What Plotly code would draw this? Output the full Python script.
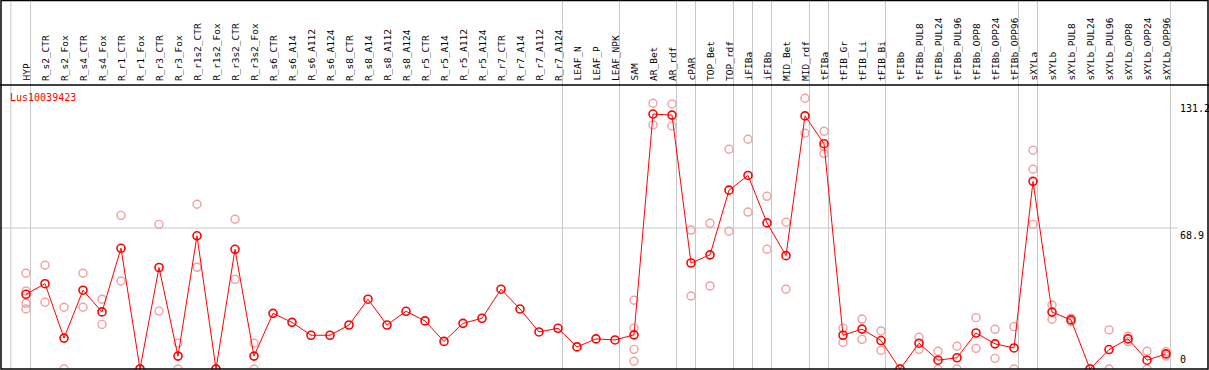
import plotly.graph_objects as go

categories = ["HYP", "R_s2_CTR", "R_s2_Fox", "R_s4_CTR", "R_s4_Fox", "R_r1_CTR", "R_r1_Fox",
              "R_r3_CTR", "R_r3_Fox", "R_r1s2_CTR", "R_r1s2_Fox", "R_r3s2_CTR", "R_r3s2_Fox",
              "R_s6_CTR", "R_s6_A14", "R_s6_A112", "R_s6_A124", "R_s8_CTR", "R_s8_A14",
              "R_s8_A112", "R_s8_A124", "R_r5_CTR", "R_r5_A14", "R_r5_A112", "R_r5_A124",
              "R_r7_CTR", "R_r7_A14", "R_r7_A112", "R_r7_A124", "LEAF_N", "LEAF_P", "LEAF_NPK",
              "SAM", "AR_Bet", "AR_rdf", "cPAR", "TOP_Bet", "TOP_rdf", "iFIBa", "iFIBb",
              "MID_Bet", "MID_rdf", "tFIBa", "tFIB_Gr", "tFIB_Li", "tFIB_Bi", "tFIBb",
              "tFIBb_PUL8", "tFIBb_PUL24", "tFIBb_PUL96", "tFIBb_OPP8", "tFIBb_OPP24",
              "tFIBb_OPP96", "sXYLa", "sXYLb", "sXYLb_PUL8", "sXYLb_PUL24", "sXYLb_PUL96",
              "sXYLb_OPP8", "sXYLb_OPP24", "sXYLb_OPP96"]

means = [36.5, 41.7, 15.1, 38.5, 27.9, 59.0, 0, 49.6, 6.3, 65.1, 0, 58.5, 6.3,
         27.2, 22.8, 16.5, 16.5, 21.5, 34.1, 21.5, 28.2, 23.5, 13.5, 22.3, 24.8,
         39.0, 29.3, 18.1, 19.9, 10.8, 14.7, 14.2,
         16.7, 124.6, 124.1, 51.8, 55.8, 87.4, 94.6, 71.4, 55.4, 123.7, 110.1,
         16.5, 19.5, 13.9, 0, 12.6, 4.3, 5.5, 17.6, 12.3, 10.3,
         91.7, 27.8, 24.0, 0, 9.5, 14.7, 4.3, 7.4]

replicates = [[46.8, 38.1, 32.1, 29.3], [50.7, 32.6], [30.2, 0], [46.8, 30.2], [34.1, 21.8],
              [75.1, 43.0], [0, 0], [70.7, 28.3], [12.6, 0], [80.5, 49.7], [0, 0],
              [73.2, 43.8], [12.6, 0],
              [], [], [], [], [], [], [], [], [], [], [], [], [], [], [], [], [], [], [],
              [33.6, 20.0, 9.6, 3.8], [129.9, 119.3], [129.5, 118.8], [67.9, 35.7],
              [71.2, 40.6], [107.4, 67.3], [112.3, 76.7], [84.4, 58.5], [71.7, 39.0],
              [132.3, 115.2], [116.2, 108.7, 105.4], [20.0, 13.0], [24.4, 14.5],
              [18.6, 9.1], [0, 0], [15.5, 9.6], [8.65, 0], [11.1, 0], [25.1, 10.1],
              [19.4, 5.2], [20.7, 0], [106.9, 97.6, 70.7], [31.3, 24.3], [24.8, 23.1],
              [0, 0], [19.1, 0], [16.0, 13.4], [8.65, 0], [8.5, 6.35]]

tick_values = [131.2, 68.9, 0]
gene_name = "Lus10039423"
group_ends = ["HYP", "R_r7_A124", "LEAF_NPK", "AR_rdf", "cPAR", "TOP_rdf", "iFIBa",
              "iFIBb", "MID_rdf", "tFIBa", "tFIB_Bi", "tFIBb_OPP96", "sXYLa", "sXYLb_OPP96"]

W, H = 1209, 370
TOP_PX, BOT_PX = 85, 369
FONT = "DejaVu Sans Mono"
RED = "#ff0000"
PALE = "#f2a0a0"
GRID = "#c8c8c8"

n = len(categories)
xs = list(range(n))

rx, ry = [], []
for i, reps in enumerate(replicates):
    for v in reps:
        rx.append(i)
        ry.append(v)

fig = go.Figure()
fig.add_trace(go.Scatter(x=rx, y=ry, mode="markers",
                         marker=dict(symbol="circle-open", size=8, color=PALE,
                                     line=dict(width=1.4, color=PALE)),
                         hoverinfo="skip", showlegend=False))
fig.add_trace(go.Scatter(x=xs, y=means, mode="lines+markers",
                         line=dict(color=RED, width=1),
                         marker=dict(symbol="circle-open", size=8, color=RED,
                                     line=dict(width=1.6, color=RED)),
                         hoverinfo="skip", showlegend=False))

x0 = -26 / 19
x1 = (W - 26) / 19
ymax = 138.8

shapes = []
# vertical separators (span full height)
sep_pos = [-1 + 0.2] + [categories.index(c) + 0.235 for c in group_ends]
for p in sep_pos:
    shapes.append(dict(type="line", xref="x", yref="paper", x0=p, x1=p, y0=0, y1=1,
                       line=dict(color=GRID, width=1), layer="below"))
# horizontal grid line
shapes.append(dict(type="line", xref="paper", yref="y", x0=0, x1=1178 / W,
                   y0=tick_values[1], y1=tick_values[1],
                   line=dict(color=GRID, width=1), layer="below"))
# borders
shapes.append(dict(type="rect", xref="paper", yref="paper", x0=1 / W, x1=1208 / W,
                   y0=(H - BOT_PX) / H, y1=1 - 0.5 / H, line=dict(color="black", width=1.5)))
shapes.append(dict(type="line", xref="paper", yref="paper", x0=0, x1=1,
                   y0=(H - TOP_PX) / H, y1=(H - TOP_PX) / H, line=dict(color="black", width=1.5)))

annotations = []
for i, c in enumerate(categories):
    annotations.append(dict(x=i, y=(H - 83) / H, xref="x", yref="paper", text=c,
                            textangle=-90, showarrow=False, xanchor="center",
                            yanchor="bottom", font=dict(family=FONT, size=9.5, color="black")))
for v in tick_values:
    annotations.append(dict(x=1178 / W, y=v, xref="paper", yref="y", text=str(v),
                            showarrow=False, xanchor="left",
                            yanchor="bottom" if v == 0 else "top",
                            yshift=2 if v == 0 else 0,
                            font=dict(family=FONT, size=10, color="black")))
annotations.append(dict(x=8 / W, y=(H - 97) / H, xref="paper", yref="paper", text=gene_name,
                        showarrow=False, xanchor="left", yanchor="middle",
                        font=dict(family=FONT, size=10, color=RED)))

fig.update_layout(
    width=W, height=H,
    margin=dict(l=0, r=0, t=0, b=0),
    paper_bgcolor="white", plot_bgcolor="white",
    xaxis=dict(range=[x0, x1], visible=False, showgrid=False, zeroline=False),
    yaxis=dict(range=[0, ymax], domain=[(H - BOT_PX) / H, (H - TOP_PX) / H],
               visible=False, showgrid=False, zeroline=False),
    shapes=shapes, annotations=annotations, hovermode=False,
)

fig.write_html("out.html", config={"displayModeBar": False},
               post_script="document.body.style.margin='0';document.body.style.overflow='hidden';")
